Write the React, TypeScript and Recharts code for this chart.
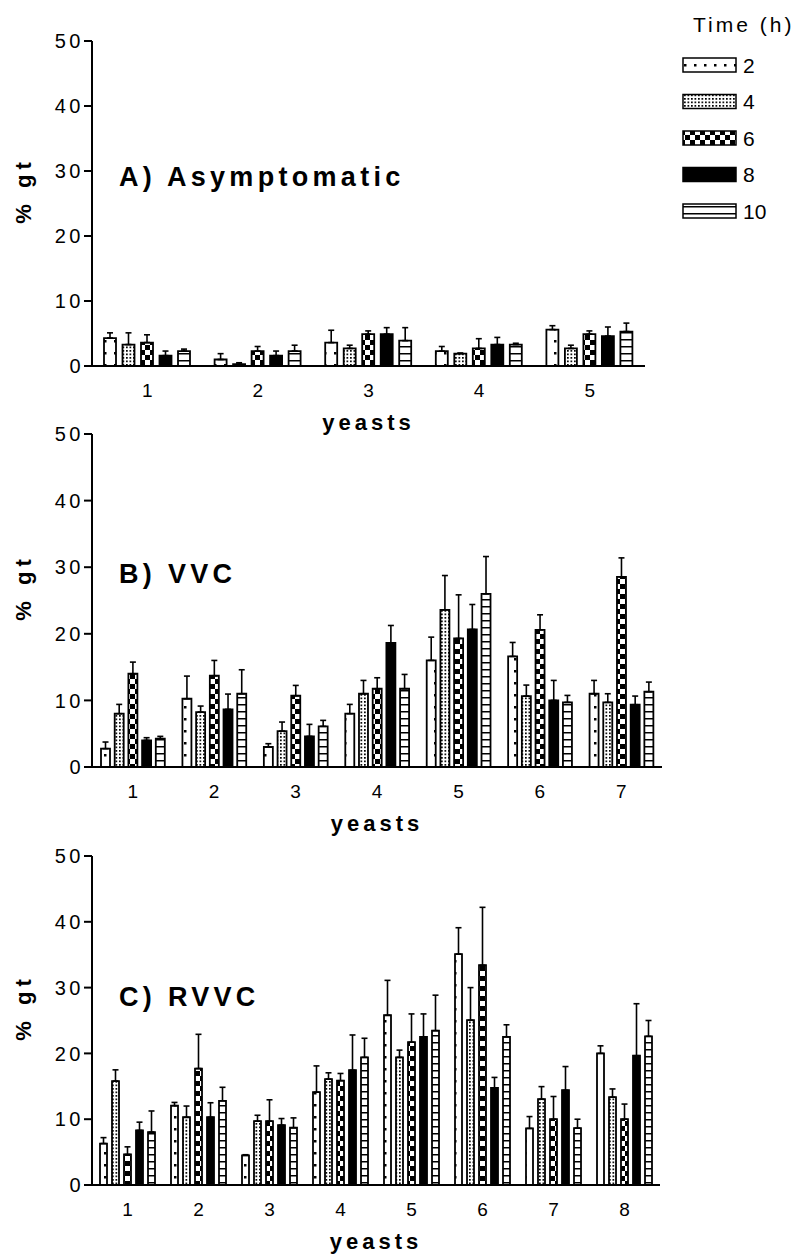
import { Bar, BarChart, ErrorBar, XAxis, YAxis } from "recharts";

const FONT = "'Liberation Sans', Arial, Helvetica, sans-serif";

// time points (h) and the pattern used for each
const TIMES = ["2", "4", "6", "8", "10"];
const FILLS = ["url(#pat2)", "url(#pat4)", "url(#pat6)", "#000", "url(#pat10)"];

// A) Asymptomatic
const asymYeasts = ["1", "2", "3", "4", "5"];
const asym2h = [4.3, 1.0, 3.6, 2.3, 5.6];
const asym4h = [3.3, 0.3, 2.7, 1.9, 2.7];
const asym6h = [3.6, 2.3, 4.9, 2.7, 4.9];
const asym8h = [1.6, 1.6, 4.9, 3.3, 4.6];
const asym10h = [2.3, 2.3, 3.9, 3.3, 5.3];
const asym2hErr = [0.8, 0.9, 1.9, 0.7, 0.6];
const asym4hErr = [1.8, 0.2, 0.5, 0.1, 0.5];
const asym6hErr = [1.2, 0.7, 0.5, 1.5, 0.5];
const asym8hErr = [0.7, 0.7, 1.0, 1.1, 1.4];
const asym10hErr = [0.3, 0.9, 2.0, 0.2, 1.3];

// B) VVC
const vvcYeasts = ["1", "2", "3", "4", "5", "6", "7"];
const vvc2h = [2.75, 10.25, 3.0, 8.0, 16.0, 16.6, 11.0];
const vvc4h = [8.0, 8.25, 5.4, 11.0, 23.6, 10.65, 9.7];
const vvc6h = [14.0, 13.7, 10.7, 11.75, 19.3, 20.6, 28.55];
const vvc8h = [4.0, 8.65, 4.6, 18.65, 20.65, 10.0, 9.35];
const vvc10h = [4.25, 11.0, 6.1, 11.75, 26.0, 9.7, 11.3];
const vvc2hErr = [1.0, 3.4, 0.5, 1.4, 3.5, 2.1, 2.0];
const vvc4hErr = [1.4, 0.9, 1.35, 2.0, 5.15, 1.65, 1.3];
const vvc6hErr = [1.75, 2.3, 1.55, 1.65, 6.55, 2.25, 2.85];
const vvc8hErr = [0.4, 2.3, 1.8, 2.6, 3.75, 3.0, 1.3];
const vvc10hErr = [0.35, 3.6, 0.9, 2.15, 5.6, 1.05, 1.45];

// C) RVVC
const rvvcYeasts = ["1", "2", "3", "4", "5", "6", "7", "8"];
const rvvc2h = [6.3, 12.05, 4.5, 14.1, 25.8, 35.1, 8.6, 20.0];
const rvvc4h = [15.8, 10.3, 9.7, 16.1, 19.4, 25.05, 13.05, 13.35];
const rvvc6h = [4.65, 17.7, 9.7, 15.85, 21.7, 33.4, 10.0, 10.0];
const rvvc8h = [8.3, 10.3, 9.1, 17.45, 22.5, 14.75, 14.4, 19.65];
const rvvc10h = [8.05, 12.8, 8.7, 19.4, 23.45, 22.5, 8.65, 22.6];
const rvvc2hErr = [0.9, 0.5, 0.1, 4.0, 5.3, 4.0, 1.8, 1.15];
const rvvc4hErr = [1.7, 1.7, 0.9, 0.95, 1.1, 4.95, 1.9, 1.25];
const rvvc6hErr = [1.15, 5.2, 3.25, 1.1, 4.3, 8.8, 3.45, 2.3];
const rvvc8hErr = [1.25, 2.2, 1.0, 5.35, 3.5, 1.6, 3.6, 7.9];
const rvvc10hErr = [3.2, 2.05, 1.5, 2.9, 5.4, 1.85, 1.35, 2.4];

const Y_TICKS = [0, 10, 20, 30, 40, 50];

function buildRows(yeasts: string[], means: number[][], errs: number[][]) {
  return yeasts.map((y, i) => {
    const row: Record<string, any> = { yeast: y };
    TIMES.forEach((t, k) => {
      row["t" + t] = means[k][i];
      // only the upper half of the error bar is drawn
      row["e" + t] = [0, errs[k][i]];
    });
    return row;
  });
}

const asymRows = buildRows(
  asymYeasts,
  [asym2h, asym4h, asym6h, asym8h, asym10h],
  [asym2hErr, asym4hErr, asym6hErr, asym8hErr, asym10hErr],
);
const vvcRows = buildRows(
  vvcYeasts,
  [vvc2h, vvc4h, vvc6h, vvc8h, vvc10h],
  [vvc2hErr, vvc4hErr, vvc6hErr, vvc8hErr, vvc10hErr],
);
const rvvcRows = buildRows(
  rvvcYeasts,
  [rvvc2h, rvvc4h, rvvc6h, rvvc8h, rvvc10h],
  [rvvc2hErr, rvvc4hErr, rvvc6hErr, rvvc8hErr, rvvc10hErr],
);

const X_AXIS_H = 72;

function Patterns() {
  return (
    <svg width={0} height={0} style={{ position: "absolute" }}>
      <defs>
        <pattern id="pat2" width={10} height={12} patternUnits="userSpaceOnUse">
          <rect width={10} height={12} fill="#fff" />
          <rect x={4} y={4} width={2.5} height={2.5} fill="#000" />
        </pattern>
        <pattern id="pat4" width={3.5} height={3.5} patternUnits="userSpaceOnUse">
          <rect width={3.5} height={3.5} fill="#fff" />
          <rect width={1.7} height={1.7} fill="#000" />
        </pattern>
        <pattern id="pat6" width={10} height={10} patternUnits="userSpaceOnUse">
          <rect width={10} height={10} fill="#fff" />
          <rect width={5} height={5} fill="#000" />
          <rect x={5} y={5} width={5} height={5} fill="#000" />
        </pattern>
        <pattern id="pat10" width={10} height={7} patternUnits="userSpaceOnUse">
          <rect width={10} height={7} fill="#fff" />
          <rect y={3} width={10} height={1.5} fill="#000" />
        </pattern>
      </defs>
    </svg>
  );
}

interface PanelProps {
  rows: Record<string, any>[];
  top: number;
  height: number;
  marginTop: number;
  marginRight: number;
  barSize: number;
  barGap: number;
}

function Panel({ rows, top, height, marginTop, marginRight, barSize, barGap }: PanelProps) {
  const plotH = height - marginTop - X_AXIS_H;
  const cy = marginTop + plotH / 2 - 13;
  const cx = (92 + 800 - marginRight) / 2;
  return (
    <div style={{ position: "absolute", left: 0, top }}>
      <BarChart
        width={800}
        height={height}
        data={rows}
        margin={{ top: marginTop, right: marginRight, bottom: 0, left: 40 }}
        barSize={barSize}
        barGap={barGap}
      >
        <XAxis
          dataKey="yeast"
          height={X_AXIS_H}
          tickLine={false}
          tickSize={0}
          tickMargin={18}
          axisLine={{ stroke: "#000", strokeWidth: 2 }}
          tick={{ fill: "#000", fontSize: 19, fontFamily: FONT }}
          label={() => (
            <text
              x={cx}
              y={marginTop + plotH + 64}
              textAnchor="middle"
              fontFamily={FONT}
              fontWeight="bold"
              fontSize={22}
              letterSpacing={4}
              fill="#000"
            >
              yeasts
            </text>
          )}
        />
        <YAxis
          domain={[0, 50]}
          ticks={Y_TICKS}
          width={52}
          tickSize={8}
          tickMargin={0}
          axisLine={{ stroke: "#000", strokeWidth: 2 }}
          tickLine={{ stroke: "#000", strokeWidth: 2 }}
          tick={{ fill: "#000", fontSize: 20, fontFamily: FONT, letterSpacing: 3.5 }}
          label={() => (
            <text
              x={31}
              y={cy}
              transform={`rotate(-90 31 ${cy})`}
              textAnchor="middle"
              fontFamily={FONT}
              fontWeight="bold"
              fontSize={22}
              letterSpacing={5}
              fill="#000"
            >
              % gt
            </text>
          )}
        />
        {TIMES.map((t, k) => (
          <Bar
            key={t}
            dataKey={"t" + t}
            fill={FILLS[k]}
            stroke="#000"
            strokeWidth={1.8}
            isAnimationActive={false}
          >
            <ErrorBar dataKey={"e" + t} width={3} stroke="#000" strokeWidth={1.6} direction="y" />
          </Bar>
        ))}
      </BarChart>
    </div>
  );
}

function TimeLegend() {
  return (
    <svg width={130} height={230} style={{ position: "absolute", left: 670, top: 0 }}>
      <text x={23} y={32} fontFamily={FONT} fontSize={21} letterSpacing={3} fill="#000">
        Time (h)
      </text>
      {TIMES.map((t, k) => {
        const cy = 65 + k * 36.5;
        return (
          <g key={t}>
            <rect x={13} y={cy - 7} width={53} height={14} fill={FILLS[k]} stroke="#000" strokeWidth={1.5} />
            <text x={73} y={cy + 7.5} fontFamily={FONT} fontSize={21} fill="#000">
              {t}
            </text>
          </g>
        );
      })}
    </svg>
  );
}

const titleStyle = {
  position: "absolute" as const,
  left: 119,
  fontFamily: FONT,
  fontWeight: "bold" as const,
  fontSize: 27,
  lineHeight: "27px",
  letterSpacing: 4.3,
  color: "#000",
  whiteSpace: "nowrap" as const,
};

export default function App() {
  return (
    <div style={{ position: "absolute", left: 0, top: 0, width: 800, height: 1259, background: "#fff" }}>
      <Patterns />
      <Panel rows={asymRows} top={0} height={438} marginTop={41} marginRight={155} barSize={12} barGap={6.5} />
      <Panel rows={vvcRows} top={414} height={425} marginTop={20} marginRight={138} barSize={9} barGap={4.7} />
      <Panel rows={rvvcRows} top={836} height={421} marginTop={20} marginRight={140} barSize={7} barGap={5} />
      <TimeLegend />
      <div style={{ ...titleStyle, top: 164 }}>A) Asymptomatic</div>
      <div style={{ ...titleStyle, top: 561 }}>B) VVC</div>
      <div style={{ ...titleStyle, top: 984 }}>C) RVVC</div>
    </div>
  );
}
